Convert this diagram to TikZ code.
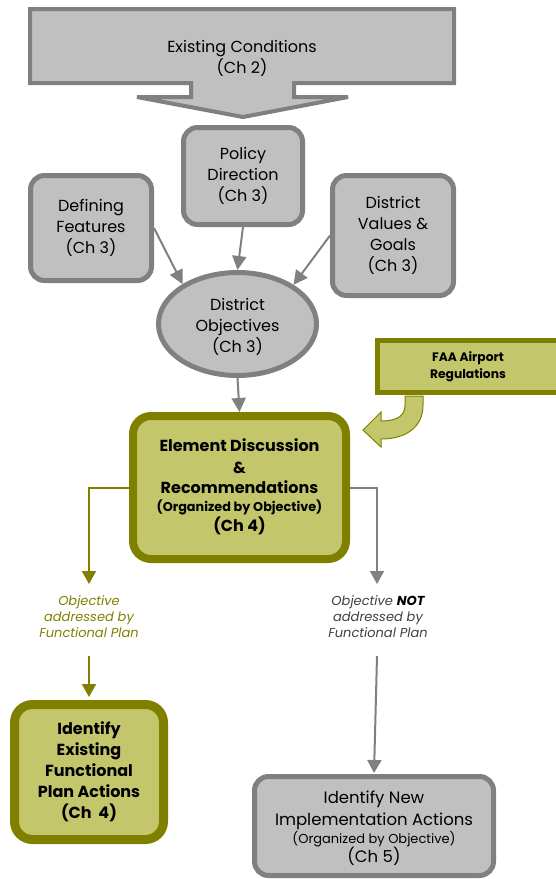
\documentclass[tikz,border=0pt]{standalone}
\usepackage{fontspec}
\setmainfont{Poppins}
\usetikzlibrary{arrows.meta,shapes.geometric}
\definecolor{gfill}{HTML}{C0C0C0}
\definecolor{gline}{HTML}{808080}
\definecolor{oline}{HTML}{808000}
\definecolor{ofill}{HTML}{C4C66B}
\definecolor{gtext}{HTML}{404040}
\tikzset{
  gbox/.style={draw=gline,fill=gfill,line width=5pt,rounded corners=14pt,align=center,inner sep=0pt},
  obox/.style={draw=oline,fill=ofill,line width=8pt,rounded corners=18pt,align=center,inner sep=0pt},
  garrow/.style={draw=gline,line width=2pt,-{Triangle[width=14pt,length=14pt]}},
  oarrow/.style={draw=oline,line width=2pt,-{Triangle[width=14pt,length=13pt]}},
  txt/.style={align=center,inner sep=0pt},
  reg/.style={font=\fontsize{16}{21}\selectfont},
}
\newcommand{\fs}[2]{\fontsize{#1}{#2}\selectfont}
\begin{document}
\begin{tikzpicture}[x=1pt,y=-1pt]
\useasboundingbox (0,0) rectangle (556,879);
\begin{scope}
\clip (0,0) rectangle (556,879);
% top big arrow
\draw[draw=gline,fill=gfill,line width=4pt,line join=miter]
  (30,9) -- (454,9) -- (454,83) -- (294,83) -- (294,97) -- (348,97) -- (243,117)
  -- (137,97) -- (191,97) -- (191,83) -- (30,83) -- cycle;
\node[txt,reg] (ec) at (242,58) {Existing Conditions\\(Ch 2)};
% boxes
\node[gbox,reg,minimum width=119pt,minimum height=97pt] (pol) at (243,176) {Policy\\Direction\\(Ch 3)};
\node[gbox,reg,minimum width=121pt,minimum height=105pt] (def) at (91,228) {Defining\\Features\\(Ch 3)};
\node[gbox,reg,minimum width=121pt,minimum height=120pt] (val) at (393,235.5) {District\\Values \&\\Goals\\(Ch 3)};
\node[draw=gline,fill=gfill,line width=5pt,ellipse,minimum width=158pt,minimum height=103pt,inner sep=0pt,align=center,reg] (obj) at (237.5,324) {\rule{0pt}{0pt}\\[-4pt]District\\Objectives\\(Ch 3)};
% FAA
\node[draw=oline,fill=ofill,line width=5pt,minimum width=181pt,minimum height=52pt,inner sep=0pt,align=center,font=\bfseries\fs{12.3}{17}] (faa) at (468,366.5) {FAA Airport\\Regulations};
\end{scope}
% element
\node[obox,minimum width=213pt,minimum height=143pt,font=\bfseries\fs{16}{20}] (elem) at (239.5,487.5)
  {Element Discussion\\[2pt]\&\\Recommendations\\[-2pt]{\fs{12.8}{16}(Organized by Objective)}\\(Ch 4)\\[-16pt]\rule{0pt}{0pt}};
% FAA curved arrow
\draw[draw=oline,fill=ofill,line width=1pt,line join=miter]
  (423,396) -- (423,405) .. controls (423,428) and (405,439) .. (381,439)
  -- (381,447) -- (363,430) -- (381,412) -- (381,421)
  .. controls (397,421) and (405,416) .. (405,405) -- (405,396) -- cycle;
% bottom boxes
\node[obox,line width=9pt,minimum width=149pt,minimum height=135pt,font=\bfseries\fs{16}{21}] (iex) at (89,772) {Identify\\Existing\\Functional\\Plan Actions\\(Ch~~4)};
\begin{scope}
\clip (0,0) rectangle (556,879);
\node[gbox,minimum width=239pt,minimum height=99pt,font=\fs{16.5}{21}] (inew) at (374,826)
  {\rule{0pt}{0pt}\\[-4pt]Identify New\\[1pt]Implementation Actions\\[-3pt]{\fs{13}{16}(Organized by Objective)}\\[-2pt](Ch 5)};
\end{scope}
% labels
\node[txt,font=\itshape\fs{13}{16},text=oline] (lab1) at (89,617) {Objective\\addressed by\\Functional Plan};
\node[txt,font=\itshape\fs{13}{16},text=gtext] (lab2) at (378,617) {Objective {\bfseries\color{black}NOT}\\addressed by\\Functional Plan};
\coordinate (a1) at (89,584);
\coordinate (b1) at (89,656);
\coordinate (a2) at (377,584);
\coordinate (b2) at (377,656);
% connectors
\draw[garrow] (def.east) -- (obj.144);
\draw[garrow] (pol.south) -- (obj.north);
\draw[garrow] (val.west) -- (obj.35);
\draw[garrow] (obj.south) -- (elem.north);
\draw[oarrow] (elem.west) -| (a1);
\draw[oarrow,shorten >=3pt] (b1) -- (iex.north);
\draw[garrow,-{Triangle[width=14pt,length=13pt]}] (elem.east) -| (a2);
\draw[garrow,-{Triangle[width=14pt,length=13pt]},shorten >=1pt] (b2) -- (inew.north);
\end{tikzpicture}
\end{document}
